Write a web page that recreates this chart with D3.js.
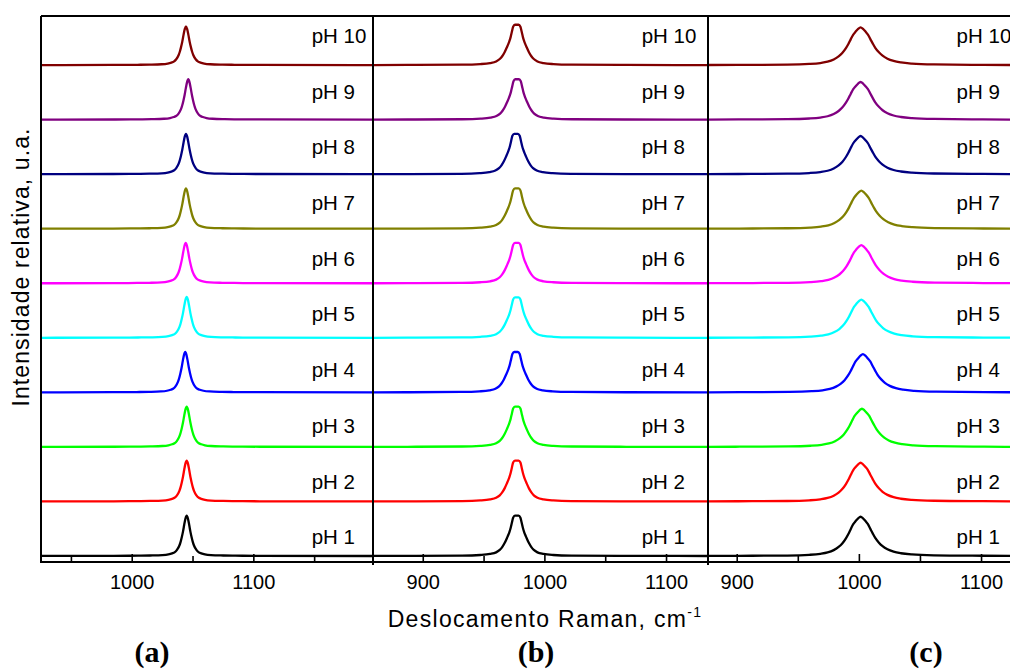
<!DOCTYPE html>
<html>
<head>
<meta charset="utf-8">
<script src="https://cdn.jsdelivr.net/npm/d3@7/dist/d3.min.js"></script>
<style>
  body { margin: 0; background: #ffffff; }
  svg text { font-family: "Liberation Sans", Arial, sans-serif; fill: #000; }
</style>
</head>
<body>
<div id="chart"></div>
<script>
// pH levels, labels and the Origin-style colours
const phLevels = [1, 2, 3, 4, 5, 6, 7, 8, 9, 10];
const phLabels = phLevels.map(p => 'pH ' + p);
const phColors = ['#000000', '#ff0000', '#00ff00', '#0000ff', '#00ffff',
                  '#ff00ff', '#808000', '#000080', '#800080', '#800000'];

// panel (a): band shape (offset from peak, cm-1 / relative intensity)
const shiftA   = [-150, -60, -40, -30, -20, -15, -12, -10, -8, -6, -5, -4, -3, -2, -1, 0,
                  1, 2, 3, 4, 5, 6, 8, 10, 12, 15, 20, 30, 40, 60, 170];
const profileA = [0, 0.004, 0.008, 0.012, 0.022, 0.04, 0.065, 0.09, 0.15, 0.26, 0.35, 0.47, 0.61, 0.78, 0.93, 1,
                  0.93, 0.78, 0.61, 0.47, 0.35, 0.26, 0.15, 0.09, 0.065, 0.04, 0.022, 0.012, 0.008, 0.004, 0];
const centersA = [1045.2, 1045.2, 1045.2, 1044.0, 1045.2, 1044.4, 1044.6, 1044.6, 1046.5, 1044.6];
const heightsA = [0.74, 0.75, 0.74, 0.74, 0.75, 0.74, 0.74, 0.74, 0.74, 0.71];

// panel (b): flat-topped band
const shiftB   = [-150, -90, -45, -30, -22, -17, -14, -12, -10, -8, -7, -6, -5, -4, -3, -1.5, 0,
                  1.5, 3, 4, 5, 6, 7, 8, 10, 12, 14, 17, 22, 30, 45, 90, 170];
const profileB = [0, 0.003, 0.01, 0.025, 0.05, 0.09, 0.15, 0.22, 0.32, 0.45, 0.52, 0.6, 0.7, 0.83, 0.95, 1, 1,
                  1, 0.95, 0.83, 0.7, 0.6, 0.52, 0.45, 0.32, 0.22, 0.15, 0.09, 0.05, 0.025, 0.01, 0.003, 0];
const centersB = [977.3, 977.3, 977.3, 976.7, 977.3, 977.3, 977.3, 976.7, 977.6, 977.3];
const heightsB = [0.74, 0.75, 0.74, 0.74, 0.74, 0.74, 0.74, 0.74, 0.74, 0.74];

// panel (c): broad band, slightly longer high-shift tail
const shiftC   = [-140, -100, -60, -42, -33, -27, -22, -18, -15, -12, -10, -8, -6, -4, -2, 0,
                  2, 4, 6, 8, 10, 12, 15, 18, 22, 27, 33, 42, 60, 100, 140];
const profileC = [0, 0.005, 0.012, 0.03, 0.055, 0.09, 0.15, 0.23, 0.32, 0.45, 0.56, 0.69, 0.81, 0.89, 0.96, 1,
                  0.96, 0.89, 0.81, 0.69, 0.57, 0.46, 0.34, 0.25, 0.17, 0.11, 0.07, 0.04, 0.018, 0.006, 0];
const centersC = [1001.4, 1001.4, 1002.5, 1003.3, 1002.0, 1002.0, 1002.0, 1001.4, 1001.4, 1001.4];
const heightsC = [0.72, 0.71, 0.70, 0.70, 0.70, 0.70, 0.70, 0.70, 0.69, 0.69];

// axis ticks
const tickValues  = [900, 950, 1000, 1050, 1100, 1150];
const majorTicks  = [900, 1000, 1100];
const panelLetters = ['(a)', '(b)', '(c)'];
const labelShift   = [1148, 1080, 1080];   // x where the pH labels start, in cm-1

(function drawRaman() {
    const width = 1010, height = 670;
    const top = 16, bottom = 562;

    const svg = d3.select('#chart')
        .append('svg')
        .attr('width', width)
        .attr('height', height);

    svg.append('rect')
        .attr('width', width)
        .attr('height', height)
        .style('fill', '#ffffff');

    const y = d3.scaleLinear()
        .domain([-0.11, 9.9])
        .range([bottom, top]);

    // label rows are spaced a bit wider than the traces
    const yLabel = d3.scaleLinear()
        .domain([1, 10])
        .range([537, 35.5]);

    const panels = [
        { shift: shiftA, profile: profileA, centers: centersA, heights: heightsA,
          domain: [925.4, 1198.4], range: [41, 373], letterX: 152 },
        { shift: shiftB, profile: profileB, centers: centersB, heights: heightsB,
          domain: [859.1, 1134.5], range: [373, 708], letterX: 536 },
        { shift: shiftC, profile: profileC, centers: centersC, heights: heightsC,
          domain: [876.5, 1123.7], range: [708, 1010], letterX: 926 }
    ];

    panels.forEach((p, pi) => {
        const x = d3.scaleLinear().domain(p.domain).range(p.range);

        svg.append('clipPath')
            .attr('id', 'clip' + pi)
          .append('rect')
            .attr('x', p.range[0])
            .attr('y', top)
            .attr('width', p.range[1] - p.range[0])
            .attr('height', bottom - top);

        const line = d3.line()
            .x(d => x(d.x))
            .y(d => y(d.y))
            .curve(d3.curveMonotoneX);

        const g = svg.append('g').attr('clip-path', `url(#clip${pi})`);

        phLevels.forEach((ph, i) => {
            const pts = p.shift.map((s, j) => ({
                x: p.centers[i] + s,
                y: i + p.heights[i] * p.profile[j]
            }));
            g.append('path')
                .attr('d', line(pts))
                .style('fill', 'none')
                .style('stroke', phColors[i])
                .style('stroke-width', 2.3)
                .style('stroke-linejoin', 'round');
        });

        svg.append('g')
            .selectAll('text')
            .data(phLabels)
            .join('text')
            .attr('x', x(labelShift[pi]))
            .attr('y', (d, i) => yLabel(phLevels[i]))
            .attr('dy', '0.36em')
            .style('font-size', '20.5px')
            .text(d => d);

        const ticks = tickValues.filter(t => t > p.domain[0] && t < p.domain[1]);

        // minor ticks
        svg.append('g')
            .attr('transform', `translate(0,${bottom})`)
            .call(d3.axisBottom(x)
                .tickValues(ticks.filter(t => !majorTicks.includes(t)))
                .tickSize(-6)
                .tickFormat(''))
            .call(a => a.select('.domain').remove())
            .call(a => a.selectAll('line').style('stroke', '#000').style('stroke-width', 1.6));

        // major ticks with labels
        svg.append('g')
            .attr('transform', `translate(0,${bottom})`)
            .call(d3.axisBottom(x)
                .tickValues(ticks.filter(t => majorTicks.includes(t)))
                .tickSize(-8)
                .tickPadding(13)
                .tickFormat(d3.format('d')))
            .call(a => a.select('.domain').remove())
            .call(a => a.selectAll('line').style('stroke', '#000').style('stroke-width', 1.6))
            .call(a => a.selectAll('text')
                .style('font-size', '20px')
                .style('font-family', '"Liberation Sans", Arial, sans-serif'));

        svg.append('text')
            .attr('x', p.letterX)
            .attr('y', 662)
            .attr('text-anchor', 'middle')
            .style('font-family', '"Liberation Serif", "Times New Roman", serif')
            .style('font-weight', 'bold')
            .style('font-size', '30px')
            .text(panelLetters[pi]);
    });

    // frame and panel dividers
    const frame = svg.append('g')
        .style('stroke', '#000')
        .style('stroke-width', 2)
        .style('fill', 'none');
    frame.append('line').attr('x1', 41).attr('x2', width).attr('y1', top).attr('y2', top);
    frame.append('line').attr('x1', 41).attr('x2', width).attr('y1', bottom).attr('y2', bottom);
    frame.append('line').attr('x1', 41).attr('x2', 41).attr('y1', top).attr('y2', bottom + 1);
    [373, 708].forEach(xd => {
        frame.append('line').attr('x1', xd).attr('x2', xd).attr('y1', top).attr('y2', bottom + 3);
    });

    // axis titles
    const xt = svg.append('text')
        .attr('x', 545)
        .attr('y', 627)
        .attr('text-anchor', 'middle')
        .style('font-size', '23px')
        .style('letter-spacing', '1.3px');
    xt.append('tspan').text('Deslocamento Raman, cm');
    xt.append('tspan')
        .attr('dy', -10)
        .style('font-size', '14px')
        .text('-1');

    svg.append('text')
        .attr('transform', 'translate(21,267) rotate(-90)')
        .attr('text-anchor', 'middle')
        .attr('dy', '0.36em')
        .style('font-size', '23px')
        .style('letter-spacing', '1.1px')
        .text('Intensidade relativa, u.a.');
})();
</script>
</body>
</html>
